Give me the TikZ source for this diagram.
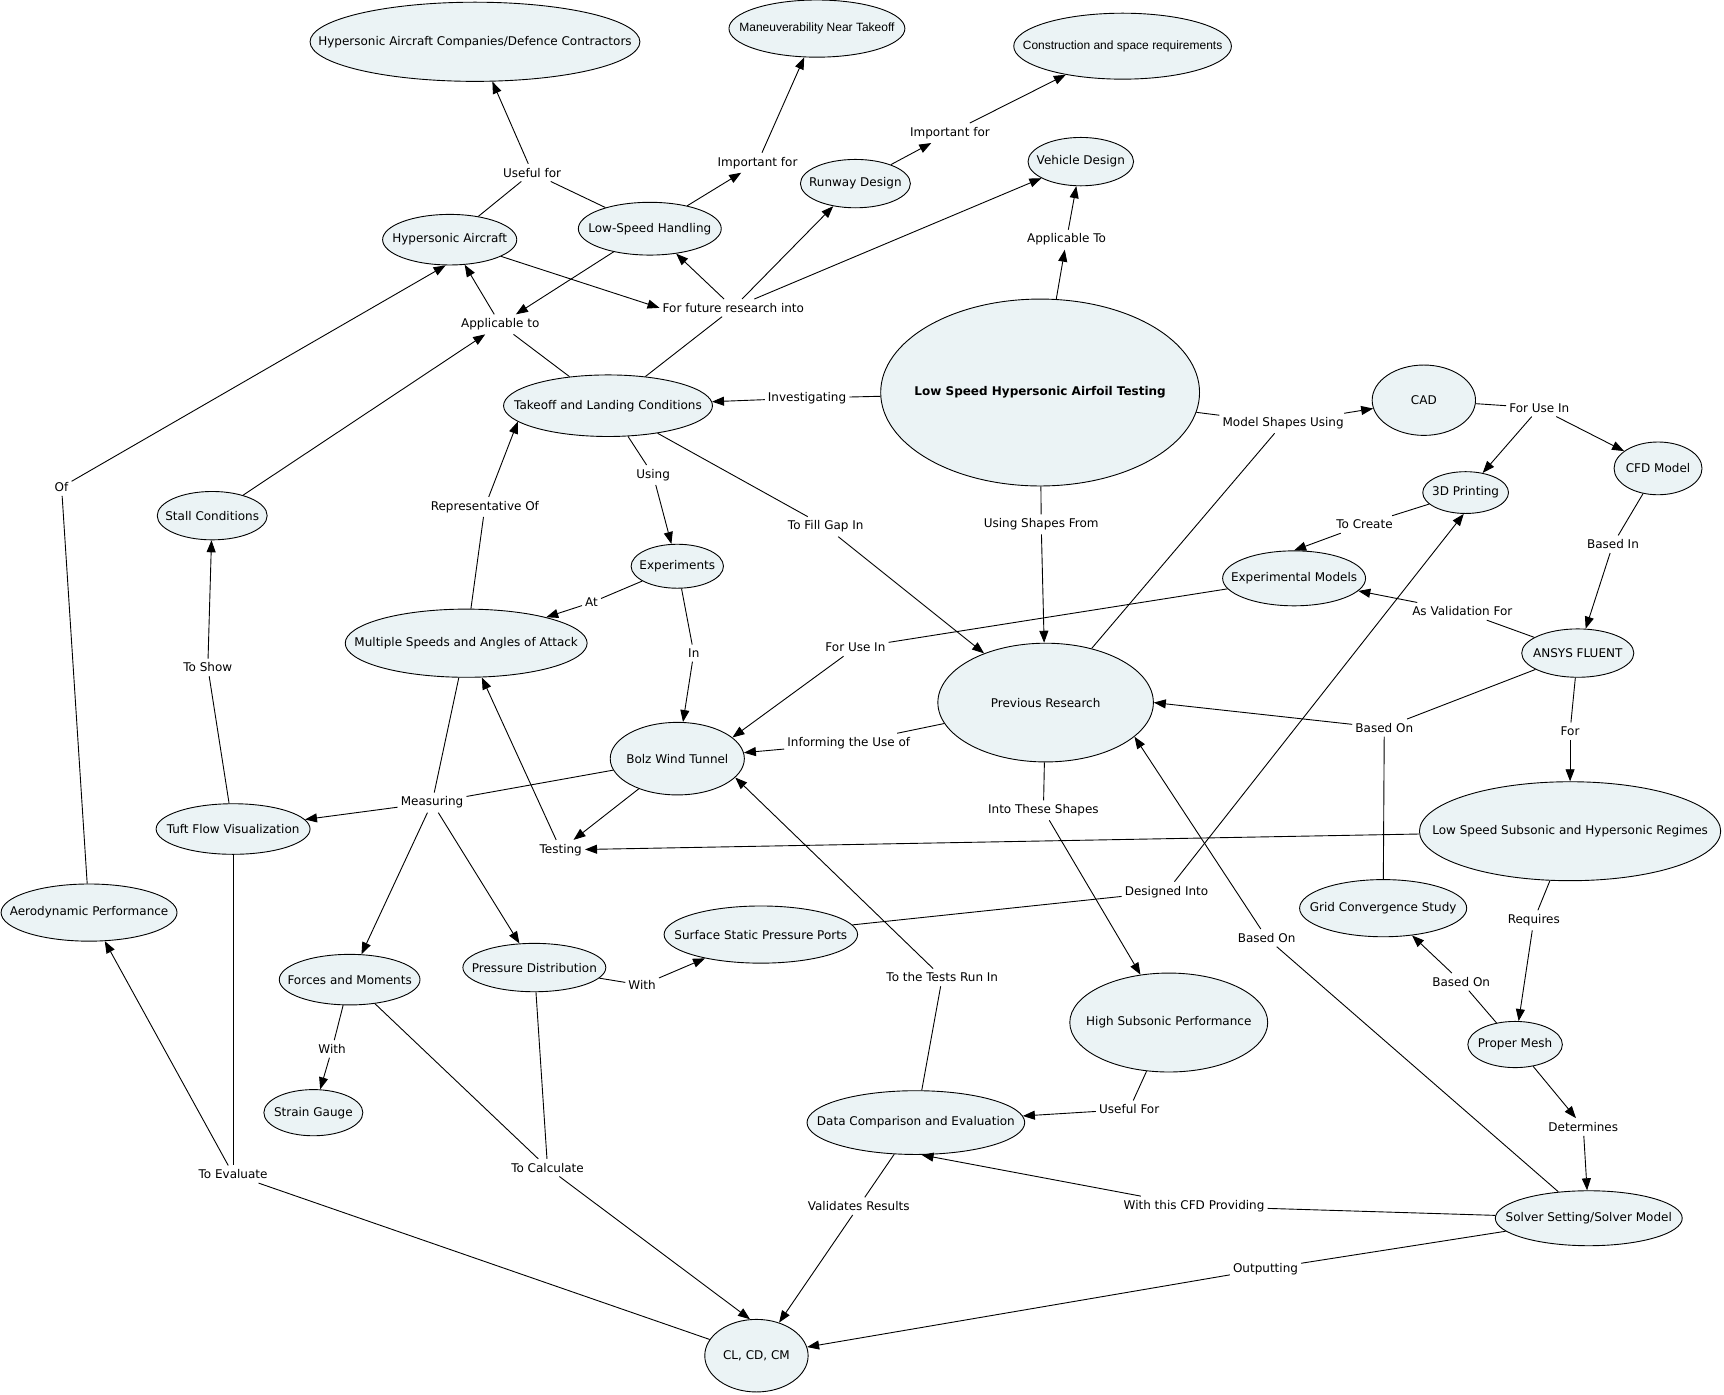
\documentclass[tikz,border=0pt]{standalone}
\usepackage{fontspec}
\setmainfont{DejaVu Sans}
\newfontfamily\arialfam{Liberation Sans}
\usetikzlibrary{arrows.meta,shapes.geometric}
\definecolor{cfill}{RGB}{235,243,245}
\tikzset{
  cpt/.style 2 args={ellipse, draw, fill=cfill, line width=0.9pt, inner sep=0pt,
    minimum width={2*#1*1.09949pt}, minimum height={2*#2*1.09949pt}},
  ctxt/.style={inner sep=0pt, font=\fontsize{12}{14}\selectfont},
  atxt/.style={inner sep=0pt, font=\arialfam\fontsize{12}{14}\selectfont},
  lp/.style={inner xsep=3pt, inner ysep=4pt, font=\fontsize{12}{14}\selectfont},
  ln/.style={line width=0.9pt},
  ar/.style={line width=0.9pt, -{Triangle[length=12pt,width=9pt]}},
}
\begin{document}
\begin{tikzpicture}[x=1.09949pt, y=-1.09949pt]
\useasboundingbox[fill=white] (0,0) rectangle (1568,1268.76);
% concepts
\node[cpt={150}{36}] (hac) at (432,38) {};
\node[cpt={80}{26}] (mnt) at (743,26) {};
\node[cpt={99}{30}] (csr) at (1021,42) {};
\node[cpt={48}{22}] (vd) at (983,147) {};
\node[cpt={50}{22}] (rd) at (778,167) {};
\node[cpt={65}{24}] (lsh) at (591,208) {};
\node[cpt={61}{23}] (ha) at (409,218) {};
\node[cpt={95}{28}] (tlc) at (553,369) {};
\node[cpt={145}{85}] (main) at (946,357) {};
\node[cpt={47}{32}] (cad) at (1295,364) {};
\node[cpt={40}{24}] (cfd) at (1508,426) {};
\node[cpt={39}{19}] (tdp) at (1333,448) {};
\node[cpt={65}{25}] (em) at (1177,526) {};
\node[cpt={42}{20}] (exp) at (616,515) {};
\node[cpt={50}{22}] (sc) at (193,469) {};
\node[cpt={110}{31}] (ms) at (424,585) {};
\node[cpt={51}{22}] (ans) at (1435,594) {};
\node[cpt={98}{54}] (pr) at (951,639) {};
\node[cpt={61}{33}] (bwt) at (616,690) {};
\node[cpt={70}{23}] (tfv) at (212,754) {};
\node[cpt={137}{45}] (lss) at (1428,756) {};
\node[cpt={80}{26}] (ap) at (81,830) {};
\node[cpt={76}{26}] (gcs) at (1258,826) {};
\node[cpt={88}{26}] (ssp) at (692,850) {};
\node[cpt={65}{22}] (pd) at (486,880) {};
\node[cpt={64}{23}] (fm) at (318,891) {};
\node[cpt={90}{45}] (hsp) at (1063,930) {};
\node[cpt={43}{21}] (pm) at (1378,950) {};
\node[cpt={45}{21}] (sg) at (285,1012) {};
\node[cpt={99}{29}] (dce) at (833,1021) {};
\node[cpt={85}{25}] (ss) at (1445,1108) {};
\node[cpt={47}{33}] (cl) at (688,1233) {};
% concept texts
\node[ctxt] (hac-t) at (hac) {Hypersonic Aircraft Companies/Defence Contractors};
\node[atxt] (mnt-t) at (mnt) {Maneuverability Near Takeoff};
\node[atxt] (csr-t) at (csr) {Construction and space requirements};
\node[ctxt] (vd-t) at (vd) {Vehicle Design};
\node[ctxt] (rd-t) at (rd) {Runway Design};
\node[ctxt] (lsh-t) at (lsh) {Low-Speed Handling};
\node[ctxt] (ha-t) at (ha) {Hypersonic Aircraft};
\node[ctxt] (tlc-t) at (tlc) {Takeoff and Landing Conditions};
\node[ctxt,font=\bfseries\fontsize{12}{14}\selectfont] (main-t) at (main) {Low Speed Hypersonic Airfoil Testing};
\node[ctxt] (cad-t) at (cad) {CAD};
\node[ctxt] (cfd-t) at (cfd) {CFD Model};
\node[ctxt] (tdp-t) at (tdp) {3D Printing};
\node[ctxt] (em-t) at (em) {Experimental Models};
\node[ctxt] (exp-t) at (exp) {Experiments};
\node[ctxt] (sc-t) at (sc) {Stall Conditions};
\node[ctxt] (ms-t) at (ms) {Multiple Speeds and Angles of Attack};
\node[ctxt] (ans-t) at (ans) {ANSYS FLUENT};
\node[ctxt] (pr-t) at (pr) {Previous Research};
\node[ctxt] (bwt-t) at (bwt) {Bolz Wind Tunnel};
\node[ctxt] (tfv-t) at (tfv) {Tuft Flow Visualization};
\node[ctxt] (lss-t) at (lss) {Low Speed Subsonic and Hypersonic Regimes};
\node[ctxt] (ap-t) at (ap) {Aerodynamic Performance};
\node[ctxt] (gcs-t) at (gcs) {Grid Convergence Study};
\node[ctxt] (ssp-t) at (ssp) {Surface Static Pressure Ports};
\node[ctxt] (pd-t) at (pd) {Pressure Distribution};
\node[ctxt] (fm-t) at (fm) {Forces and Moments};
\node[ctxt] (hsp-t) at (hsp) {High Subsonic Performance};
\node[ctxt] (pm-t) at (pm) {Proper Mesh};
\node[ctxt] (sg-t) at (sg) {Strain Gauge};
\node[ctxt] (dce-t) at (dce) {Data Comparison and Evaluation};
\node[ctxt] (ss-t) at (ss) {Solver Setting/Solver Model};
\node[ctxt] (cl-t) at (cl) {CL, CD, CM};
% linking phrases
\node[lp] (p1) at (484,157) {Useful for};
\node[lp] (p2) at (689,148) {Important for};
\node[lp] (p3) at (864,121) {Important for};
\node[lp] (p4) at (970,218) {Applicable To};
\node[lp] (p5) at (667,280) {For future research into};
\node[lp] (p6) at (455,295) {Applicable to};
\node[lp] (p7) at (734,362) {Investigating};
\node[lp] (p8) at (1167,385) {Model Shapes Using};
\node[lp] (p9) at (1400,371) {For Use In};
\node[lp] (p10) at (594,432) {Using};
\node[lp] (p11) at (441,461) {Representative Of};
\node[lp] (p12) at (751,479) {To Fill Gap In};
\node[lp] (p13) at (947,477) {Using Shapes From};
\node[lp] (p14) at (1241,477) {To Create};
\node[lp] (p15) at (1467,495) {Based In};
\node[lp] (p16) at (56,443) {Of};
\node[lp] (p17) at (538,548) {At};
\node[lp] (p18) at (1330,556) {As Validation For};
\node[lp] (p19) at (778,589) {For Use In};
\node[lp] (p20) at (631,594) {In};
\node[lp] (p21) at (189,607) {To Show};
\node[lp] (p22) at (1428,665) {For};
\node[lp] (p23) at (1259,662) {Based On};
\node[lp] (p24) at (772,676) {Informing the Use of};
\node[lp] (p25) at (393,730) {Measuring};
\node[lp] (p26) at (949,737) {Into These Shapes};
\node[lp] (p27) at (510,773) {Testing};
\node[lp] (p28) at (1061,811) {Designed Into};
\node[lp] (p29) at (1395,837) {Requires};
\node[lp] (p30) at (1152,853) {Based On};
\node[lp] (p31) at (857,889) {To the Tests Run In};
\node[lp] (p32) at (584,896) {With};
\node[lp] (p33) at (1329,893) {Based On};
\node[lp] (p34) at (302,954) {With};
\node[lp] (p35) at (1027,1009) {Useful For};
\node[lp] (p36) at (1440,1025) {Determines};
\node[lp] (p37) at (212,1068) {To Evaluate};
\node[lp] (p38) at (498,1062) {To Calculate};
\node[lp] (p39) at (781,1097) {Validates Results};
\node[lp] (p40) at (1086,1097) {With this CFD Providing};
\node[lp] (p41) at (1151,1154) {Outputting};
% connectors
\draw[ln] (ha) -- (p1); \draw[ln] (lsh) -- (p1); \draw[ar] (p1) -- (hac);
\draw[ar] (lsh) -- (p2); \draw[ar] (p2) -- (mnt);
\draw[ar] (rd) -- (p3); \draw[ar] (p3) -- (csr);
\draw[ar] (main) -- (p4); \draw[ar] (p4) -- (vd);
\draw[ar] (ha) -- (p5.west); \draw[ln] (tlc) -- (p5);
\draw[ar] (p5) -- (lsh); \draw[ar] (p5) -- (rd); \draw[ar] (p5) -- (vd);
\draw[ar] (lsh) -- (p6); \draw[ln] (tlc) -- (p6); \draw[ar] (sc) -- (p6); \draw[ar] (p6) -- (ha);
\draw[ln] (main) -- (p7); \draw[ar] (p7) -- (tlc);
\draw[ln] (main) -- (p8); \draw[ln] (pr) -- (p8); \draw[ar] (p8) -- (cad);
\draw[ln] (cad) -- (p9); \draw[ar] (p9) -- (tdp); \draw[ar] (p9) -- (cfd);
\draw[ln] (tlc) -- (p10); \draw[ar] (p10) -- (exp);
\draw[ln] (ms) -- (p11); \draw[ar] (p11) -- (tlc.190);
\draw[ln] (tlc) -- (p12); \draw[ar] (p12) -- (pr);
\draw[ln] (main) -- (p13); \draw[ar] (p13) -- (pr);
\draw[ln] (tdp) -- (p14); \draw[ar] (p14) -- (em.north);
\draw[ln] (cfd) -- (p15); \draw[ar] (p15) -- (ans);
\draw[ln] (ap) -- (p16); \draw[ar] (p16) -- (ha.261);
\draw[ln] (exp) -- (p17); \draw[ar] (p17) -- (ms);
\draw[ln] (ans) -- (p18); \draw[ar] (p18) -- (em);
\draw[ln] (em) -- (p19); \draw[ar] (p19) -- (bwt.21);
\draw[ln] (exp) -- (p20); \draw[ar] (p20) -- (bwt);
\draw[ln] (tfv) -- (p21); \draw[ar] (p21) -- (sc);
\draw[ln] (ans) -- (p22); \draw[ar] (p22) -- (lss);
\draw[ln] (ans) -- (p23); \draw[ln] (gcs) -- (p23); \draw[ar] (p23) -- (pr.east);
\draw[ln] (pr) -- (p24); \draw[ar] (p24) -- (bwt);
\draw[ln] (bwt) -- (p25); \draw[ln] (ms) -- (p25);
\draw[ar] (p25) -- (tfv); \draw[ar] (p25) -- (fm); \draw[ar] (p25) -- (pd);
\draw[ln] (pr) -- (p26); \draw[ar] (p26) -- (hsp);
\draw[ar] (bwt) -- (p27); \draw[ar] (lss) -- (p27); \draw[ar] (p27) -- (ms);
\draw[ln] (ssp) -- (p28); \draw[ar] (p28) -- (tdp.-95);
\draw[ln] (lss) -- (p29); \draw[ar] (p29) -- (pm);
\draw[ln] (ss) -- (p30); \draw[ar] (p30) -- (pr.-21);
\draw[ln] (dce) -- (p31); \draw[ar] (p31) -- (bwt.-18);
\draw[ln] (pd) -- (p32); \draw[ar] (p32) -- (ssp);
\draw[ln] (pm) -- (p33); \draw[ar] (p33) -- (gcs);
\draw[ln] (fm) -- (p34); \draw[ar] (p34) -- (sg);
\draw[ln] (hsp) -- (p35); \draw[ar] (p35) -- (dce);
\draw[ar] (pm) -- (p36); \draw[ar] (p36) -- (ss);
\draw[ln] (tfv) -- (p37); \draw[ln] (cl) -- (p37); \draw[ar] (p37) -- (ap);
\draw[ln] (fm) -- (p38); \draw[ln] (pd) -- (p38); \draw[ar] (p38) -- (cl.100);
\draw[ln] (dce) -- (p39); \draw[ar] (p39) -- (cl);
\draw[ln] (ss) -- (p40); \draw[ar] (p40) -- (dce.-80);
\draw[ln] (ss) -- (p41); \draw[ar] (p41) -- (cl);
\end{tikzpicture}
\end{document}
